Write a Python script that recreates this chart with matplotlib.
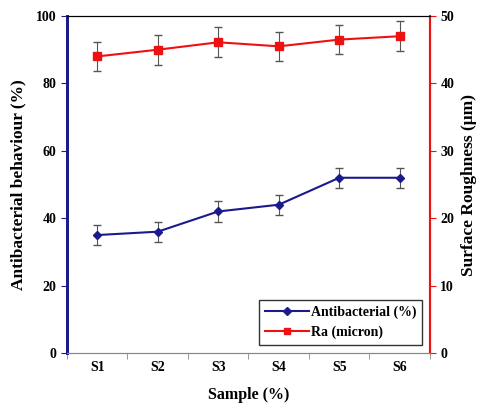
import numpy as np
import matplotlib.pyplot as plt
from matplotlib.lines import Line2D

samples = ["S1", "S2", "S3", "S4", "S5", "S6"]
antibacterial = [35, 36, 42, 44, 52, 52]
antibacterial_err = [3, 3, 3, 3, 3, 3]
ra = [44, 45, 46.1, 45.5, 46.5, 47]
ra_err = [2.2, 2.2, 2.2, 2.2, 2.2, 2.2]

plt.rcParams["font.family"] = "Liberation Serif"
plt.rcParams["font.weight"] = "bold"

fig = plt.figure(figsize=(4.81, 4.03), dpi=100)
ax = fig.add_axes([67 / 481, 1 - 353 / 403, 363 / 481, 337 / 403])
ax2 = ax.twinx()

x = np.arange(1, len(samples) + 1)
navy = "#1a1a8c"
red = "#ee1111"

ax.errorbar(x, antibacterial, yerr=antibacterial_err, color=navy, marker="D", ms=4,
            lw=1.5, ecolor="#555555", elinewidth=0.8, capsize=3)
ax2.errorbar(x, ra, yerr=ra_err, color=red, marker="s", ms=6,
             lw=1.5, ecolor="#555555", elinewidth=0.8, capsize=3)

ax.set_xlim(0.5, 6.5)
ax.set_ylim(0, 100)
ax2.set_ylim(0, 50)
ax.set_yticks([0, 20, 40, 60, 80, 100])
ax2.set_yticks([0, 10, 20, 30, 40, 50])
ax.set_xticks(x)
ax.set_xticklabels(samples)
ax.set_xticks(np.arange(0.5, 6.6, 1), minor=True)
ax.tick_params(axis="x", which="major", length=0, labelsize=10, pad=6)
ax.tick_params(axis="x", which="minor", length=4, color="#888888")
ax.tick_params(axis="y", direction="out", length=4, color=navy, labelsize=10)
ax2.tick_params(axis="y", direction="out", length=4, color=red, labelsize=10)

for a in (ax, ax2):
    a.spines["left"].set_color(navy)
    a.spines["left"].set_linewidth(2)
    a.spines["right"].set_color(red)
    a.spines["right"].set_linewidth(1.5)
    a.spines["bottom"].set_color("#888888")
    a.spines["top"].set_color("black")

ax.set_xlabel("Sample (%)", fontsize=11.5, fontweight="bold", labelpad=9)
ax.set_ylabel("Antibacterial behaviour (%)", fontsize=12.5, fontweight="bold", labelpad=7)
ax2.set_ylabel("Surface Roughness (\u03bcm)", fontsize=12.5, fontweight="bold", labelpad=5)

handles = [
    Line2D([], [], color=navy, marker="D", ms=4, lw=1.5),
    Line2D([], [], color=red, marker="s", ms=5, lw=1.5),
]
labels = ["Antibacterial (%)", "Ra (micron)"]
leg = ax2.legend(handles, labels, loc="lower right", fontsize=10, frameon=True,
                 fancybox=False, edgecolor="black", handlelength=3.2,
                 handletextpad=0.1, borderaxespad=0.6, borderpad=0.4,
                 labelspacing=0.45)
leg.get_frame().set_linewidth(1)

fig.savefig("out.png", dpi=100)
